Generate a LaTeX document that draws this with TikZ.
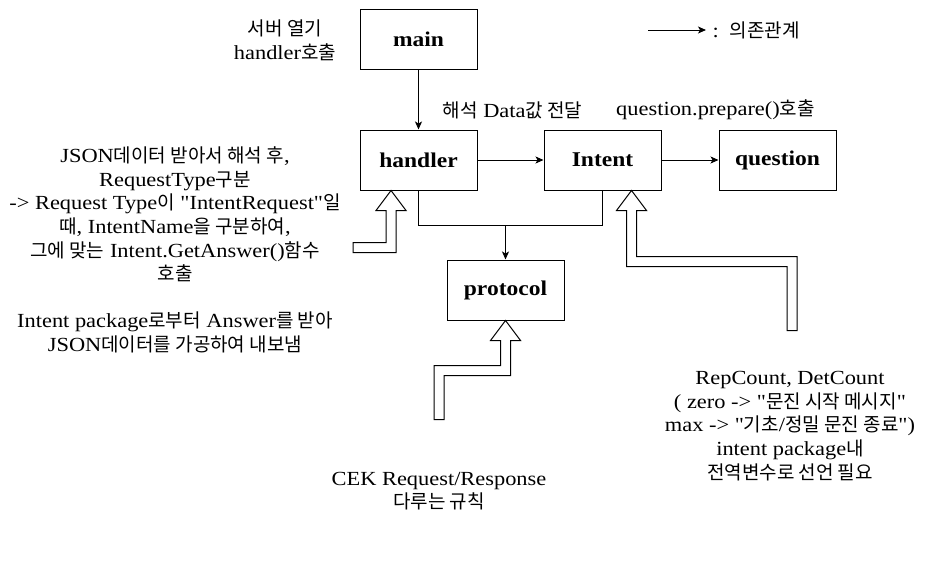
\documentclass[tikz,border=0pt]{standalone}
\usepackage{fontspec}
\setmainfont{Liberation Serif}[FakeStretch=1.12,Ligatures=TeXOff]
\newfontfamily\kofont{Noto Sans CJK KR}[Scale=0.95]
\newcommand\kor[1]{{\kofont #1}}
\usetikzlibrary{arrows.meta}
\usetikzlibrary{positioning}

\begin{document}
\begin{tikzpicture}[x=1pt,y=1pt,>={Stealth[length=8pt,width=7pt,inset=2pt]},line width=1pt,
  box/.style={draw,minimum width=117pt,minimum height=60pt,inner sep=0pt,font=\fontsize{21}{25}\selectfont\bfseries},
  note/.style={align=center,inner sep=0pt,font=\fontsize{20}{23.6}\selectfont},
  hollow/.style={draw,fill=white,line join=miter}]
\useasboundingbox (0,0) rectangle (948,-562);
\node[box] (handler) at (418.5,-160) {handler};
\node[box,above=60pt of handler] (main) {main};
\node[box,right=66pt of handler] (intent) {Intent};
\node[box,right=57pt of intent] (question) {question};
\node[box] (protocol) at (505.5,-290) {protocol};
% labels
\node[note] (server) at (285,-40) {\kor{서버 열기}\\handler\kor{호출}};
\node[note] (pass) at (512.5,-110) {\kor{해석} Data\kor{값 전달}};
\node[note] (prepare) at (715.5,-110) {question.prepare()\kor{호출}};
\node[note] (handlerdoc) at (175,-250) {JSON\kor{데이터 받아서 해석 후},\\RequestType\kor{구분}\\-> Request Type\kor{이} "IntentRequest"\kor{일}\\\kor{때}, IntentName\kor{을 구분하여},\\\kor{그에 맞는} Intent.GetAnswer()\kor{함수}\\\kor{호출}\\[23.6pt]Intent package\kor{로부터} Answer\kor{를 받아}\\JSON\kor{데이터를 가공하여 내보냄}};
\node[note] (cek) at (439,-491) {CEK Request/Response\\\kor{다루는 규칙}};
\node[note] (count) at (790,-426) {RepCount, DetCount\\( zero -> "\kor{문진 시작 메시지}"\\max -> "\kor{기초}/\kor{정밀 문진 종료}")\\intent package\kor{내}\\\kor{전역변수로 선언 필요}};
% legend
\coordinate (lgstart) at (648,-30);
\node[note,anchor=west] (lgtext) at (712,-30) {:\ \ \kor{의존관계}};
\draw[->,shorten >=6pt] (lgstart) -- (lgtext.west);
% dependencies
\foreach \a/\b in {main/handler,handler/intent,intent/question} \draw[->] (\a) -- (\b);
\draw (handler.south) -- ++(0,-35) coordinate (bus) -| (intent.south);
\draw[->] (bus -| protocol.north) -- (protocol.north);
% hollow arrows
\draw[hollow] ([xshift=-27.5pt]handler.south) -- ++(15,-20) -- ++(-10,0) -- ++(0,-42) -- ++(-43,0) -- ++(0,10) -- ++(33,0) -- ++(0,32) -- ++(-10,0) -- cycle;
\draw[hollow] ([xshift=29pt]intent.south) -- ++(15,-20) -- ++(-10,0) -- ++(0,-46) -- ++(160.5,0) -- ++(0,-74) -- ++(-10,0) -- ++(0,64) -- ++(-160.5,0) -- ++(0,56) -- ++(-10,0) -- cycle;
\draw[hollow] (protocol.south) -- ++(15,-20) -- ++(-10,0) -- ++(0,-35) -- ++(-66.5,0) -- ++(0,-44) -- ++(-10,0) -- ++(0,54) -- ++(66.5,0) -- ++(0,25) -- ++(-10,0) -- cycle;
\end{tikzpicture}
\end{document}
